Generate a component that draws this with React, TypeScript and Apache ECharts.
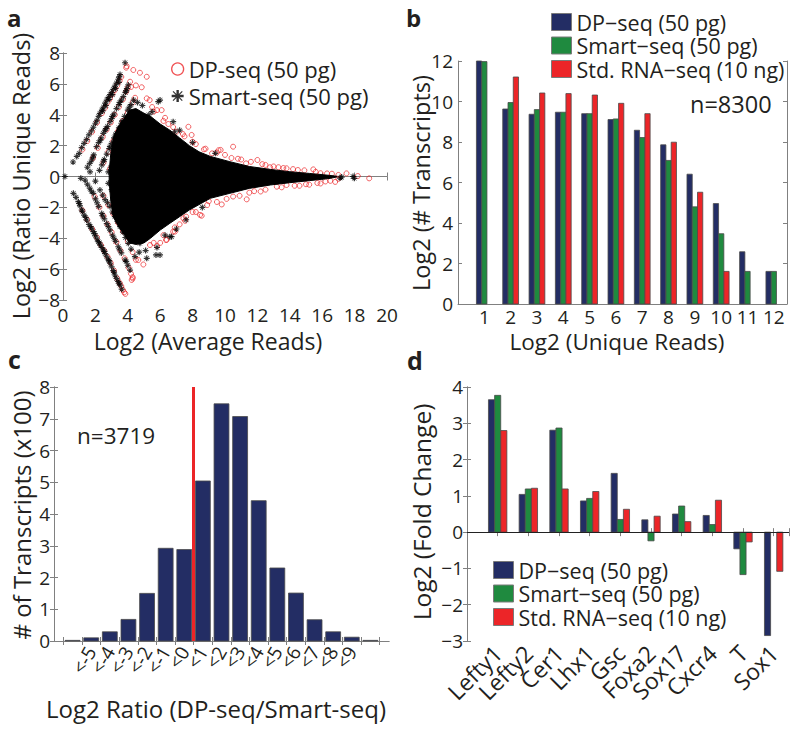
import React, { useEffect, useRef } from 'react';
import * as echarts from 'echarts';

const FONT = '"Open Sans", "Noto Sans", sans-serif';
const TXT = '#231f20';
const AXIS = '#808080';
const BLUE = '#232d64';
const GREEN = '#1f8a3f';
const RED = '#ec2528';
const EDGE = '#4a4a4a';
const STAR = 'path://M0 4L10 4L10 6L0 6Z M4 0L6 0L6 10L4 10Z M1.5 0.8L9.2 8.5L8.5 9.2L0.8 1.5Z M8.5 0.8L9.2 1.5L1.5 9.2L0.8 8.5Z';

// ---------- Panel a ----------
const aCorePolygon: number[][] = [
  [2.85, 0.3], [2.95, 1.5], [3.1, 2.5], [3.4, 3.2], [3.8, 3.8], [4.1, 4.3], [4.5, 4.4], [5.0, 4.1], [5.4, 3.9],
  [6.0, 3.4], [6.6, 3.0], [7.2, 2.5], [7.8, 2.0], [8.4, 1.6], [9.1, 1.3], [10.3, 0.96], [11.5, 0.65],
  [12.8, 0.46], [14.0, 0.31], [15.2, 0.2], [16.2, 0.1], [16.9, 0.02],
  [16.9, -0.03], [16.5, -0.12], [15.2, -0.27], [14.0, -0.4], [12.8, -0.55], [11.5, -0.77], [10.3, -1.09],
  [9.1, -1.41], [7.8, -2.17], [7.2, -2.6], [6.6, -3.03], [6.0, -3.47], [5.4, -4.0], [5.0, -4.3], [4.5, -4.4],
  [4.1, -4.3], [3.8, -3.8], [3.4, -3.2], [3.1, -2.6], [2.95, -1.6], [2.85, -0.3],
];

const aSmart: number[][] = [
  [0.62, 0.94], [0.85, 1.3], [1.0, 1.5], [1.15, 1.87], [1.3, 2.15], [1.46, 2.41], [1.6, 2.7], [1.75, 2.95],
  [1.87, 3.19], [2.0, 3.45], [2.1, 3.65], [2.2, 3.9], [2.28, 4.09], [2.4, 4.3], [2.5, 4.5], [2.6, 4.75],
  [2.7, 4.95], [2.8, 5.12], [2.9, 5.3], [3.0, 5.45], [3.1, 5.65], [3.2, 5.85], [3.3, 6.05], [3.41, 6.3],
  [3.47, 6.45], [3.52, 6.6], [3.83, 7.37],
  [2.45, 4.25], [2.65, 4.6], [2.85, 5.0], [3.05, 5.3], [3.25, 5.7], [3.45, 6.1],
  [1.5, 0.6], [1.65, 0.85], [1.77, 1.07], [1.9, 1.4], [2.07, 1.93], [2.2, 2.2], [2.35, 2.5], [2.49, 2.8],
  [2.6, 3.0], [2.75, 3.25], [2.9, 3.55], [3.0, 3.75], [3.15, 4.05], [3.3, 4.4], [3.45, 4.65], [3.6, 4.95],
  [3.72, 5.17], [3.85, 5.45], [3.95, 5.7], [4.03, 5.93],
  [1.85, 1.25], [2.3, 2.35], [2.65, 3.1], [3.05, 3.9], [3.5, 4.8], [3.9, 5.55],
  [2.25, 0.4], [2.4, 0.75], [2.55, 1.1], [2.7, 1.45], [2.85, 1.8], [3.0, 2.15], [3.15, 2.5], [3.3, 2.8],
  [3.45, 3.15], [3.6, 3.45], [3.8, 3.9], [4.0, 4.3], [4.2, 4.65], [4.36, 4.95],
  [2.5, 1.0], [2.9, 1.95], [3.25, 2.7], [3.65, 3.6], [4.1, 4.5],
  [2.8, 0.3], [2.95, 0.6], [3.1, 0.95], [3.25, 1.3], [3.4, 1.6],
  [0.64, -1.09], [0.8, -1.35], [0.95, -1.63], [1.05, -1.9], [1.15, -2.17], [1.3, -2.5], [1.46, -2.82],
  [1.6, -3.1], [1.75, -3.35], [1.87, -3.57], [2.0, -3.85], [2.1, -4.05], [2.18, -4.22], [2.3, -4.45],
  [2.4, -4.6], [2.49, -4.76], [2.6, -5.0], [2.7, -5.2], [2.8, -5.4], [2.9, -5.62], [3.0, -5.85], [3.1, -6.1],
  [3.2, -6.38], [3.3, -6.6], [3.4, -6.8], [3.52, -7.03], [3.62, -7.3],
  [1.0, -1.75], [1.2, -2.25], [1.4, -2.65], [1.7, -3.25], [1.95, -3.7], [2.25, -4.3], [2.55, -4.85],
  [2.85, -5.45], [3.15, -6.2], [3.45, -6.9],
  [1.36, -0.23], [1.5, -0.5], [1.65, -0.75], [1.87, -1.09], [2.0, -1.45], [2.2, -1.95], [2.39, -2.39],
  [2.55, -2.75], [2.7, -3.05], [2.9, -3.47], [3.05, -3.8], [3.25, -4.2], [3.41, -4.55], [3.6, -4.95],
  [3.83, -5.41], [4.0, -5.75], [4.14, -6.06],
  [1.75, -0.95], [2.1, -1.7], [2.45, -2.55], [2.8, -3.25], [3.15, -4.0], [3.5, -4.75], [3.9, -5.5],
  [2.28, -0.87], [2.45, -1.2], [2.6, -1.5], [2.75, -1.7], [2.9, -1.95], [3.05, -2.3], [3.2, -2.6],
  [3.35, -2.9], [3.52, -3.25], [3.7, -3.6], [3.85, -3.95], [4.03, -4.33], [4.2, -4.7], [4.44, -5.19],
  [2.8, -0.44], [3.0, -0.85], [3.2, -1.25], [3.35, -1.6], [3.52, -1.95], [3.7, -2.3], [3.9, -2.7],
  [4.14, -3.25], [4.4, -3.8], [4.75, -4.33],
  [0.12, 0], [1.1, -0.12], [1.67, 0.3], [2.0, -0.3], [5.99, 4.95], [5.3, 4.0], [6.8, 3.55], [5.88, 4.85],
  [5.99, -5.08], [5.17, -5.3], [6.7, -3.9], [5.8, -4.6], [5.74, -5.08], [6.6, -3.9], [17.9, 0], [17.1, -0.1],
  [17.98, -0.12], [17.2, -0.04], [7.2, 3.0], [8.0, 2.2], [7.0, -3.4], [7.6, -2.8], [4.6, 4.8], [4.9, 4.6],
  [4.7, -4.9], [5.1, -4.8], [5.5, 4.2], [6.3, -3.8], [8.6, -2.0], [9.4, 1.5], [6.9, 2.9],
];

const aDP: number[][] = [
  [1.2, 1.75], [1.5, 2.3], [1.8, 2.9], [2.1, 3.5], [2.4, 4.1], [2.6, 4.45], [2.75, 4.8], [2.9, 5.05],
  [3.05, 5.35], [3.2, 5.6], [3.35, 5.9], [3.5, 6.2], [3.6, 6.45], [3.9, 7.05], [3.93, 7.15],
  [1.85, 1.2], [2.15, 1.85], [2.45, 2.55], [2.7, 3.05], [2.95, 3.5], [3.2, 4.0], [3.45, 4.5], [3.7, 5.0],
  [3.9, 5.5], [4.0, 5.75], [4.14, 6.14],
  [2.5, 0.9], [2.8, 1.6], [3.1, 2.3], [3.4, 2.95], [3.7, 3.6], [4.0, 4.15], [4.3, 4.8], [4.45, 5.1],
  [2.9, 0.5], [3.1, 0.9], [3.3, 1.35],
  [1.2, -2.2], [1.5, -2.8], [1.8, -3.4], [2.1, -3.95], [2.35, -4.45], [2.55, -4.8], [2.75, -5.2],
  [2.95, -5.6], [3.15, -6.1], [3.35, -6.6], [3.5, -6.9], [3.6, -7.1], [3.7, -7.35], [3.78, -7.5], [3.85, -7.6],
  [1.95, -1.3], [2.25, -2.0], [2.5, -2.55], [2.75, -3.1], [3.0, -3.6], [3.3, -4.25], [3.55, -4.8],
  [3.8, -5.3], [4.05, -5.9], [4.2, -6.3], [4.3, -6.6],
  [2.5, -1.25], [2.8, -1.85], [3.1, -2.4], [3.4, -3.0], [3.7, -3.55], [4.0, -4.2], [4.3, -4.9], [4.5, -5.4],
  [3.1, -1.0], [3.45, -1.75], [3.8, -2.5], [4.2, -3.4], [4.6, -4.2],
  [4.34, 6.9], [4.75, 6.72], [5.17, 6.46], [4.86, 5.78], [5.17, 5.06], [5.35, 4.95], [6.09, 4.3], [5.8, 4.3],
  [7.74, 3.22], [7.94, 2.69], [10.5, 1.93], [9.6, 1.7], [11.3, 0.85], [13.8, 0.53], [8.7, 1.76], [9.73, 1.72],
  [10.4, 1.2], [12.0, 1.07], [12.78, 0.6], [15.45, 0.46], [15.9, 0.21], [17.5, 0.2], [18.2, 0.03],
  [18.9, -0.12], [6.5, 3.4], [7.0, 2.9], [8.2, 2.1], [9.2, 1.5], [11.0, 1.1], [12.5, 0.75], [13.3, 0.6],
  [14.5, 0.42], [16.3, 0.2], [4.5, 5.9], [4.2, 5.8], [5.5, 4.5], [6.3, 3.8], [7.4, 2.75],
  [5.6, 4.2], [6.2, 3.6], [6.8, 3.2], [7.5, 2.6], [8.0, 2.25], [8.8, 1.8], [9.5, 1.55], [10.0, 1.4],
  [10.8, 1.15], [11.6, 0.95], [12.3, 0.8], [13.0, 0.65], [13.6, 0.55], [14.2, 0.48], [14.9, 0.4],
  [15.6, 0.3], [16.6, 0.18], [17.0, 0.1],
  [8.46, -2.49], [7.54, -2.87], [11.34, -1.48], [9.8, -1.81], [6.8, -3.57], [6.4, -4.1], [5.37, -4.44],
  [4.65, -5.41], [4.3, -6.52], [4.24, -6.7], [4.96, -5.7], [8.56, -2.54], [7.43, -2.71], [6.91, -3.57],
  [6.36, -4.11], [12.2, -0.97], [13.2, -0.66], [14.6, -0.6], [15.2, -0.53], [15.9, -0.45], [16.8, -0.35],
  [10.5, -1.3], [9.0, -1.6], [8.0, -2.3], [11.8, -0.95], [13.8, -0.55], [16.2, -0.32], [5.8, -4.5],
  [6.0, -4.3], [7.2, -3.1],
  [5.6, -4.3], [6.2, -3.8], [6.9, -3.3], [7.6, -2.6], [8.2, -2.3], [8.9, -1.85], [9.5, -1.65], [10.1, -1.45],
  [10.9, -1.25], [11.5, -1.05], [12.5, -0.85], [13.5, -0.7], [14.3, -0.6], [15.0, -0.5], [15.7, -0.42],
  [16.5, -0.28], [17.0, -0.15],
];

// ---------- Panel b ----------
const bCategories = ['1', '2', '3', '4', '5', '6', '7', '8', '9', '10', '11', '12'];
const bDP = [12.0, 9.63, 9.37, 9.47, 9.4, 9.11, 8.58, 7.86, 6.41, 4.96, 2.58, 1.61];
const bSmart = [11.97, 9.95, 9.6, 9.47, 9.4, 9.14, 8.22, 7.09, 4.8, 3.47, 1.61, 1.61];
const bStd: (number | null)[] = [null, 11.21, 10.42, 10.39, 10.32, 9.91, 9.4, 7.99, 5.52, 1.61, null, null];

// ---------- Panel c ----------
const cLabels = ['', '<-5', '<-4', '<-3', '<-2', '<-1', '<0', '<1', '<2', '<3', '<4', '<5', '<6', '<7', '<8', '<9', ''];
const cCounts = [0.02, 0.1, 0.29, 0.68, 1.5, 2.92, 2.88, 5.04, 7.47, 7.07, 4.42, 2.3, 1.51, 0.67, 0.29, 0.12, 0.02];
const cZeroBoundary = 7.5;

// ---------- Panel d ----------
const dGenes = ['Lefty1', 'Lefty2', 'Cer1', 'Lhx1', 'Gsc', 'Foxa2', 'Sox17', 'Cxcr4', 'T', 'Sox1'];
const dDP = [3.65, 1.04, 2.81, 0.86, 1.62, 0.34, 0.5, 0.46, -0.46, -2.85];
const dSmart: (number | null)[] = [3.77, 1.19, 2.87, 0.93, 0.35, -0.24, 0.72, 0.21, -1.17, null];
const dStd = [2.8, 1.21, 1.19, 1.12, 0.63, 0.44, 0.29, 0.88, -0.27, -1.08];

const NAME_DP = 'DP\u2212seq (50 pg)';
const NAME_SM = 'Smart\u2212seq (50 pg)';
const NAME_STD = 'Std. RNA\u2212seq (10 ng)';

function toPairs(vals: (number | null)[]) {
  const out: number[][] = [];
  vals.forEach((v, i) => { if (v !== null) out.push([i + 1, v]); });
  return out;
}

function barRender(offset: number, width: number, fill: string) {
  return (params: any, api: any) => {
    const xv = api.value(0);
    const yv = api.value(1);
    const p1 = api.coord([xv + offset - width / 2, yv]);
    const p0 = api.coord([xv + offset + width / 2, 0]);
    return {
      type: 'rect',
      shape: { x: p1[0], y: Math.min(p1[1], p0[1]), width: p0[0] - p1[0], height: Math.abs(p0[1] - p1[1]) },
      style: { fill, stroke: EDGE, lineWidth: 0.8 },
    };
  };
}

const minusFmt = (v: number) => (v < 0 ? '\u2212' + Math.abs(v) : String(v));
const tickInside = { show: true, inside: true, length: 4, lineStyle: { color: AXIS } };
const line = { show: true, lineStyle: { color: AXIS, width: 1 } };
const lbl = { color: TXT, fontFamily: FONT, fontSize: 19 };

function txt(text: string, x: number, y: number, size: number, opts: any = {}) {
  return {
    type: 'text',
    x, y,
    rotation: opts.rotation || 0,
    style: {
      text,
      fill: TXT,
      fontFamily: FONT,
      fontSize: size,
      fontWeight: opts.bold ? 'bold' : 'normal',
      textAlign: opts.align || 'center',
      textVerticalAlign: 'middle',
      align: opts.align || 'center',
      verticalAlign: 'middle',
    },
  };
}

function buildOption() {
  const halfTicks = Array.from({ length: 18 }, (_, i) => i + 0.5);
  // every bin position, the unlabelled end bins carry empty labels
  const cLabelVals = cLabels.map((_, i) => i + 1);
  const dLabelVals = [0, ...dGenes.map((_, i) => i + 1), 10.5];
  const legendText = { color: TXT, fontFamily: FONT, fontSize: 21.5, lineHeight: 21 };
  const box = (c: string) => ({ color: c, borderColor: '#7a7a7a', borderWidth: 1 });

  return {
    animation: false,
    backgroundColor: '#fff',
    grid: [
      { left: 63, top: 53, width: 324, height: 247 },
      { left: 458, top: 61, width: 329, height: 243 },
      { left: 54, top: 387, width: 335, height: 254 },
      { left: 467, top: 387, width: 322, height: 254 },
    ],
    xAxis: [
      { gridIndex: 0, type: 'value', position: 'bottom', min: 0, max: 20, interval: 2, axisLine: line, axisTick: tickInside,
        splitLine: { show: false }, axisLabel: { ...lbl, margin: 5 } },
      { gridIndex: 0, type: 'value', position: 'top', min: 0, max: 20, interval: 2, axisLine: line, axisTick: tickInside,
        splitLine: { show: false }, axisLabel: { show: false } },
      { gridIndex: 1, type: 'value', position: 'bottom', min: 0, max: 12.5, interval: 1, axisLine: line, axisTick: { show: false },
        splitLine: { show: false },
        axisLabel: { ...lbl, margin: 3, customValues: bCategories.map((_, i) => i + 1), formatter: (v: number) => bCategories[Math.round(v) - 1] || '' } },
      { gridIndex: 2, type: 'value', position: 'bottom', min: 0, max: 18, axisLine: line,
        axisTick: { ...tickInside, customValues: halfTicks }, splitLine: { show: false },
        axisLabel: { ...lbl, fontSize: 19, lineHeight: 12, margin: 7, rotate: 60, hideOverlap: false,
          customValues: cLabelVals, formatter: (v: number) => cLabels[Math.round(v) - 1] || '' } },
      { gridIndex: 2, type: 'value', position: 'top', min: 0, max: 18, axisLine: line,
        axisTick: { ...tickInside, customValues: halfTicks }, splitLine: { show: false }, axisLabel: { show: false } },
      { gridIndex: 3, type: 'value', position: 'bottom', min: 0, max: 10.5, interval: 1, axisLine: line, axisTick: tickInside,
        splitLine: { show: false },
        axisLabel: { ...lbl, fontSize: 23, lineHeight: 16, margin: 8, rotate: 45, hideOverlap: false,
          customValues: dLabelVals, formatter: (v: number) => (Number.isInteger(v) && v >= 1 ? dGenes[v - 1] || '' : '') } },
      { gridIndex: 3, type: 'value', position: 'top', min: 0, max: 10.5, interval: 1, axisLine: line, axisTick: tickInside,
        splitLine: { show: false }, axisLabel: { show: false } },
    ],
    yAxis: [
      { gridIndex: 0, type: 'value', position: 'left', min: -8, max: 8, interval: 2, axisLine: line, axisTick: tickInside,
        splitLine: { show: false }, axisLabel: { ...lbl, margin: 3, formatter: minusFmt } },
      { gridIndex: 0, type: 'value', position: 'right', min: -8, max: 8, interval: 2, axisLine: line, axisTick: tickInside,
        splitLine: { show: false }, axisLabel: { show: false } },
      { gridIndex: 1, type: 'value', position: 'left', min: 0, max: 12, interval: 2, axisLine: line, axisTick: tickInside,
        splitLine: { show: false }, axisLabel: { ...lbl, margin: 5 } },
      { gridIndex: 1, type: 'value', position: 'right', min: 0, max: 12, interval: 2, axisLine: line, axisTick: tickInside,
        splitLine: { show: false }, axisLabel: { show: false } },
      { gridIndex: 2, type: 'value', position: 'left', min: 0, max: 8, interval: 1, axisLine: line, axisTick: tickInside,
        splitLine: { show: false }, axisLabel: { ...lbl, margin: 4 } },
      { gridIndex: 2, type: 'value', position: 'right', min: 0, max: 8, interval: 1, axisLine: line, axisTick: tickInside,
        splitLine: { show: false }, axisLabel: { show: false } },
      { gridIndex: 3, type: 'value', position: 'left', min: -3, max: 4, interval: 1, axisLine: line, axisTick: tickInside,
        splitLine: { show: false }, axisLabel: { ...lbl, margin: 4, formatter: minusFmt } },
      { gridIndex: 3, type: 'value', position: 'right', min: -3, max: 4, interval: 1, axisLine: line, axisTick: tickInside,
        splitLine: { show: false }, axisLabel: { show: false } },
    ],
    legend: [
      { left: 166, top: 52, orient: 'vertical', itemWidth: 12, itemHeight: 12, itemGap: 3, selectedMode: false,
        textStyle: { color: TXT, fontFamily: FONT, fontSize: 22, lineHeight: 24 },
        data: [
          { name: 'DP-seq (50 pg)', icon: 'circle', itemStyle: { color: '#fff', borderColor: RED, borderWidth: 1.3 } },
          { name: 'Smart-seq (50 pg)', icon: STAR, itemStyle: { color: '#000', borderWidth: 0 } },
        ] },
      { left: 546, top: 6, orient: 'vertical', itemWidth: 20, itemHeight: 17, itemGap: 1.5, selectedMode: false,
        textStyle: legendText,
        data: [
          { name: NAME_DP, icon: 'rect', itemStyle: box(BLUE) },
          { name: NAME_SM, icon: 'rect', itemStyle: box(GREEN) },
          { name: NAME_STD, icon: 'rect', itemStyle: box(RED) },
        ] },
      { left: 488, top: 554, orient: 'vertical', itemWidth: 20, itemHeight: 17, itemGap: 1.5, selectedMode: false,
        textStyle: legendText,
        data: [
          { name: NAME_DP, icon: 'rect', itemStyle: box(BLUE) },
          { name: NAME_SM, icon: 'rect', itemStyle: box(GREEN) },
          { name: NAME_STD, icon: 'rect', itemStyle: box(RED) },
        ] },
    ],
    series: [
      // panel a
      { type: 'scatter', name: 'DP-seq (50 pg)', xAxisIndex: 0, yAxisIndex: 0, z: 2, symbol: 'circle', symbolSize: 5,
        itemStyle: { color: 'rgba(255,255,255,0)', borderColor: RED, borderWidth: 0.9 }, data: aDP, silent: true },
      { type: 'custom', name: 'core', xAxisIndex: 0, yAxisIndex: 0, z: 3, silent: true, data: aCorePolygon,
        renderItem: (params: any, api: any) => {
          if (params.dataIndex !== 0) return null;
          const pts = aCorePolygon.map((p) => api.coord(p));
          return { type: 'polygon', shape: { points: pts }, style: { fill: '#000', stroke: '#000', lineWidth: 1 } };
        } },
      { type: 'scatter', name: 'Smart-seq (50 pg)', xAxisIndex: 0, yAxisIndex: 0, z: 4, symbol: STAR, symbolSize: 6,
        itemStyle: { color: '#000' }, data: aSmart, silent: true },
      // panel b
      { type: 'custom', name: NAME_DP, xAxisIndex: 2, yAxisIndex: 2, itemStyle: { color: BLUE }, data: toPairs(bDP), renderItem: barRender(-0.2, 0.2, BLUE), silent: true },
      { type: 'custom', name: NAME_SM, xAxisIndex: 2, yAxisIndex: 2, itemStyle: { color: GREEN }, data: toPairs(bSmart), renderItem: barRender(0, 0.2, GREEN), silent: true },
      { type: 'custom', name: NAME_STD, xAxisIndex: 2, yAxisIndex: 2, itemStyle: { color: RED }, data: toPairs(bStd), renderItem: barRender(0.2, 0.2, RED), silent: true },
      // panel c
      { type: 'custom', name: 'hist', xAxisIndex: 3, yAxisIndex: 4, itemStyle: { color: BLUE }, data: toPairs(cCounts),
        renderItem: barRender(0, 0.8, BLUE), silent: true,
        markLine: { silent: true, symbol: 'none', label: { show: false }, z: 10,
          lineStyle: { color: RED, width: 3, type: 'solid' }, data: [{ xAxis: cZeroBoundary }] } },
      // panel d
      { type: 'custom', name: NAME_DP, xAxisIndex: 5, yAxisIndex: 6, itemStyle: { color: BLUE }, data: toPairs(dDP), renderItem: barRender(-0.2, 0.2, BLUE), silent: true,
        markLine: { silent: true, symbol: 'none', label: { show: false }, z: 10,
          lineStyle: { color: '#222', width: 1, type: 'solid' }, data: [{ yAxis: 0 }] } },
      { type: 'custom', name: NAME_SM, xAxisIndex: 5, yAxisIndex: 6, itemStyle: { color: GREEN }, data: toPairs(dSmart), renderItem: barRender(0, 0.2, GREEN), silent: true },
      { type: 'custom', name: NAME_STD, xAxisIndex: 5, yAxisIndex: 6, itemStyle: { color: RED }, data: toPairs(dStd), renderItem: barRender(0.2, 0.2, RED), silent: true },
    ],
    graphic: [
      txt('a', 7, 17, 24, { bold: true, align: 'left' }),
      txt('b', 406, 17, 24, { bold: true, align: 'left' }),
      txt('c', 8, 359, 25, { bold: true, align: 'left' }),
      txt('d', 407, 360, 25, { bold: true, align: 'left' }),
      txt('Log2 (Ratio Unique Reads)', 21, 176, 23.5, { rotation: Math.PI / 2 }),
      txt('Log2 (Average Reads)', 208, 341, 23),
      txt('Log2 (# Transcripts)', 421, 183, 23.5, { rotation: Math.PI / 2 }),
      txt('Log2 (Unique Reads)', 617, 341, 22.5),
      txt('# of Transcripts (x100)', 21, 515, 24, { rotation: Math.PI / 2 }),
      txt('Log2 Ratio (DP-seq/Smart-seq)', 216, 708, 24),
      txt('Log2 (Fold Change)', 421, 512, 24.5, { rotation: Math.PI / 2 }),
      txt('n=8300', 690, 104, 23.5, { align: 'left' }),
      txt('n=3719', 77, 435, 22.5, { align: 'left' }),
    ],
  };
}

export default function App() {
  const ref = useRef<HTMLDivElement>(null);
  useEffect(() => {
    if (!ref.current) return;
    const chart = echarts.init(ref.current, null, { renderer: 'svg' });
    chart.setOption(buildOption() as any);
    return () => chart.dispose();
  }, []);
  return (
    <div
      ref={ref}
      style={{ position: 'absolute', left: 0, top: 0, width: 797, height: 730, background: '#fff' }}
    />
  );
}
